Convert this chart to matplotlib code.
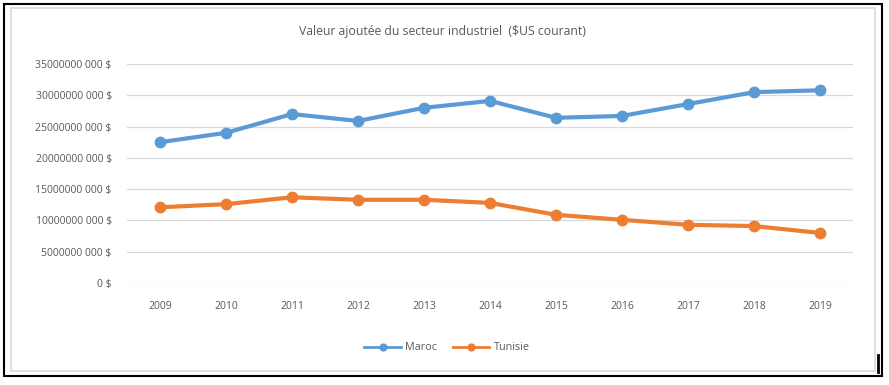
import matplotlib
matplotlib.use('Agg')
import matplotlib.pyplot as plt
from matplotlib.patches import Rectangle
from matplotlib.ticker import FuncFormatter, MultipleLocator

# Data (current US$)
years = [2009, 2010, 2011, 2012, 2013, 2014, 2015, 2016, 2017, 2018, 2019]
maroc = [22.5e9, 24.0e9, 27.0e9, 25.9e9, 28.0e9, 29.1e9, 26.4e9, 26.7e9, 28.6e9, 30.5e9, 30.8e9]
tunisie = [12.1e9, 12.6e9, 13.7e9, 13.3e9, 13.3e9, 12.8e9, 10.9e9, 10.1e9, 9.3e9, 9.1e9, 8.0e9]

BLUE = '#5b9bd5'
ORANGE = '#ed7d31'
TEXT = '#595959'
GRID = '#d9d9d9'

plt.rcParams['font.family'] = ['Open Sans', 'DejaVu Sans']

W, H = 889, 385
fig = plt.figure(figsize=(W / 100, H / 100), dpi=100)

# outer frame and inner chart border
fig.patches.append(Rectangle((4 / W, 1 - 376 / H), 878 / W, 372 / H, transform=fig.transFigure,
                             fill=False, edgecolor='black', linewidth=1.5))
fig.patches.append(Rectangle((11 / W, 1 - 371 / H), 864 / W, 363 / H, transform=fig.transFigure,
                             fill=False, edgecolor=GRID, linewidth=1.2))
fig.lines.append(plt.Line2D([878 / W, 878 / W], [1 - 372 / H, 1 - 355 / H], transform=fig.transFigure,
                            color='black', linewidth=2))

# plot area
ax = fig.add_axes([127 / W, 1 - 283 / H, (853 - 127) / W, (283 - 64) / H])
x = list(range(len(years)))
ax.plot(x, maroc, color=BLUE, linewidth=3, marker='o', markersize=7.5, label='Maroc', zorder=3)
ax.plot(x, tunisie, color=ORANGE, linewidth=3, marker='o', markersize=7.5, label='Tunisie', zorder=3)

ax.set_xlim(-0.5, len(years) - 0.5)
ax.set_ylim(0, 35e9)
ax.yaxis.set_major_locator(MultipleLocator(5e9))


def fmt(v, pos):
    v = int(round(v))
    if v == 0:
        return '0 $'
    return f"{v // 1000} {v % 1000:03d} $"


ax.yaxis.set_major_formatter(FuncFormatter(fmt))
ax.set_xticks(x)
ax.set_xticklabels([str(y) for y in years])
ax.tick_params(axis='both', length=0, labelsize=7.5, colors=TEXT)
ax.tick_params(axis='x', pad=13)
ax.tick_params(axis='y', pad=11)
ax.grid(axis='y', color=GRID, linewidth=0.9)
ax.set_axisbelow(True)
for s in ax.spines.values():
    s.set_visible(False)

fig.text(442 / W, 1 - 32 / H, 'Valeur ajoutée du secteur industriel  ($US courant)',
         ha='center', va='center', fontsize=8.8, color=TEXT)

fig.legend(loc='center', bbox_to_anchor=(447 / W, 1 - 348 / H), ncol=2, frameon=False,
           fontsize=7.8, labelcolor=TEXT, handlelength=3.4, columnspacing=1.4,
           handletextpad=0.4, markerscale=0.65)
for line in fig.legends[0].get_lines():
    line.set_linewidth(2)

fig.savefig('out.png', dpi=100)
